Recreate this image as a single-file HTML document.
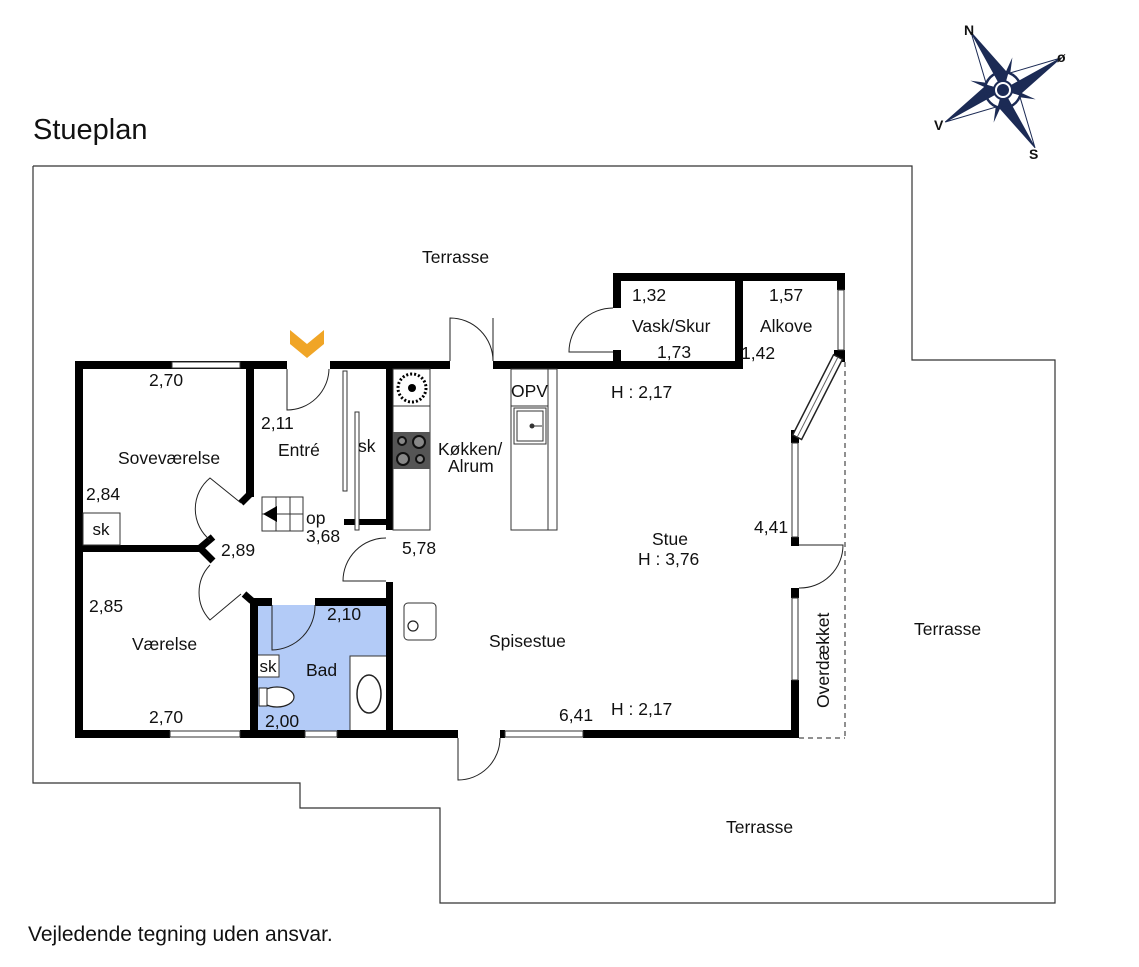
<!DOCTYPE html>
<html><head><meta charset="utf-8"><style>
html,body{margin:0;padding:0;background:#fff}
svg{display:block}
text{font-family:"Liberation Sans",Arial,sans-serif;fill:#111}
</style></head><body>
<svg width="1139" height="967" viewBox="0 0 1139 967" xmlns="http://www.w3.org/2000/svg">
<polyline points="33,166 912,166 912,360 1055,360 1055,903 440,903 440,808 300,808 300,783 33,783 33,166" fill="none" stroke="#333" stroke-width="1.2"/>
<rect x="257" y="605" width="130" height="127" fill="#b3cbf7"/>
<rect x="257" y="655" width="22" height="22" fill="#fff" stroke="#333" stroke-width="1"/>
<text x="268" y="672" font-size="17" text-anchor="middle">sk</text>
<rect x="350" y="656" width="37" height="76" fill="#fff" stroke="#333" stroke-width="1"/>
<ellipse cx="369" cy="694" rx="12" ry="19" fill="none" stroke="#222" stroke-width="1.5"/>
<ellipse cx="277" cy="697" rx="17" ry="10" fill="#fff" stroke="#222" stroke-width="1.2"/>
<rect x="259" y="688" width="8" height="18" fill="#fff" stroke="#222" stroke-width="1"/>
<g fill="#000">
<rect x="75" y="361" width="212" height="8"/>
<rect x="330" y="361" width="120" height="8"/>
<rect x="493" y="361" width="128" height="8"/>
<rect x="613" y="273" width="232" height="8"/>
<rect x="613" y="273" width="8" height="35"/>
<rect x="613" y="350" width="8" height="19"/>
<rect x="613" y="361" width="130" height="8"/>
<rect x="735" y="273" width="8" height="96"/>
<rect x="837" y="273" width="8" height="17"/>
<rect x="834" y="350" width="11" height="12"/>
<rect x="791" y="430" width="8" height="13"/>
<rect x="791" y="537" width="8" height="9"/>
<rect x="791" y="588" width="8" height="10"/>
<rect x="791" y="680" width="8" height="58"/>
<rect x="75" y="361" width="8" height="377"/>
<rect x="75" y="730" width="95" height="8"/>
<rect x="240" y="730" width="65" height="8"/>
<rect x="337" y="730" width="121" height="8"/>
<rect x="500" y="730" width="5" height="8"/>
<rect x="583" y="730" width="216" height="8"/>
<rect x="246" y="369" width="8" height="128"/>
<rect x="83" y="545" width="122" height="7"/>
<rect x="250" y="598" width="8" height="140"/>
<rect x="250" y="598" width="22" height="8"/>
<rect x="315" y="598" width="78" height="8"/>
<rect x="386" y="369" width="7" height="161"/>
<rect x="386" y="582" width="7" height="156"/>
<rect x="344" y="519" width="48" height="6"/>
</g>
<g stroke="#000" stroke-width="7" fill="none">
<line x1="250" y1="494" x2="241" y2="503"/>
<line x1="200" y1="548" x2="213" y2="537"/>
<line x1="200" y1="548" x2="213" y2="561"/>
<line x1="252" y1="601" x2="244" y2="594"/>
</g>
<g transform="translate(838,357) rotate(117)">
<rect x="0" y="-5" width="90" height="10" fill="#fff" stroke="#222" stroke-width="1.5"/>
<line x1="0" y1="0" x2="90" y2="0" stroke="#666" stroke-width="1"/>
</g>
<g fill="#fff" stroke="#333" stroke-width="1">
<rect x="172" y="362" width="68" height="6"/>
<rect x="170" y="731" width="70" height="6"/>
<rect x="305" y="731" width="32" height="6"/>
<rect x="505" y="731" width="78" height="6"/>
<rect x="838" y="290" width="6" height="60"/>
<rect x="792" y="443" width="6" height="94"/>
<rect x="792" y="598" width="6" height="82"/>
</g>
<g fill="none" stroke="#222" stroke-width="1">
<path d="M287,369 V410 A42,42 0 0 0 329,369"/>
<path d="M450,361 V318 A43,43 0 0 1 493,361 V318"/>
<path d="M613,308 A44,44 0 0 0 569,352 H613"/>
<path d="M458,738 V780 A42,42 0 0 0 500,738"/>
<path d="M799,545 H843 A43,43 0 0 1 799,588"/>
<path d="M386,538 A43,43 0 0 0 343,581 H386"/>
<path d="M272,605 V650 A44,44 0 0 0 315,605"/>
<path d="M241,503 L210,478 A40,40 0 0 0 210,540"/>
<path d="M241,594 L210,620 A40,40 0 0 1 210,565"/>
<line x1="845" y1="362" x2="845" y2="738" stroke-dasharray="5,4"/>
<line x1="799" y1="738" x2="845" y2="738" stroke-dasharray="5,4"/>
</g>
<rect x="343" y="371" width="4" height="120" fill="#fff" stroke="#333" stroke-width="1"/>
<rect x="355" y="412" width="4" height="118" fill="#fff" stroke="#333" stroke-width="1"/>
<rect x="83" y="513" width="37" height="32" fill="#fff" stroke="#333" stroke-width="1"/>
<text x="101" y="535" font-size="17" text-anchor="middle">sk</text>
<g fill="none" stroke="#333" stroke-width="1">
<rect x="262" y="497" width="41" height="34"/>
<line x1="276" y1="497" x2="276" y2="531"/><line x1="290" y1="497" x2="290" y2="531"/>
<line x1="262" y1="514" x2="303" y2="514"/>
</g>
<polygon points="263,514 277,506 277,522" fill="#000"/>
<g fill="#fff" stroke="#333" stroke-width="1">
<rect x="393" y="369" width="37" height="161"/>
<rect x="393" y="369" width="37" height="37"/>
<rect x="511" y="369" width="46" height="161"/>
<rect x="511" y="369" width="37" height="37"/>
<line x1="548" y1="369" x2="548" y2="530"/>
<rect x="514" y="408" width="32" height="36"/>
<rect x="517" y="411" width="26" height="30"/>
<rect x="404" y="603" width="32" height="37" rx="4"/>
</g>
<circle cx="412" cy="388" r="14" fill="#fff" stroke="#000" stroke-width="3" stroke-dasharray="2,2"/>
<circle cx="412" cy="388" r="4" fill="#000"/>
<rect x="393" y="432" width="37" height="37" fill="#555"/>
<g fill="#888" stroke="#111" stroke-width="2"><circle cx="402" cy="441" r="4"/><circle cx="419" cy="442" r="6"/><circle cx="403" cy="459" r="6"/><circle cx="420" cy="459" r="4"/></g>
<circle cx="532" cy="426" r="2.5" fill="#333"/><line x1="532" y1="426" x2="542" y2="426" stroke="#333"/>
<circle cx="413" cy="626" r="5" fill="none" stroke="#222" stroke-width="1.2"/>
<polygon points="290,330 307,344 324,330 324,344 307,358 290,344" fill="#f0a526"/>
<text x="33" y="139" font-size="29">Stueplan</text>
<text x="28" y="941" font-size="21">Vejledende tegning uden ansvar.</text>
<g font-size="17.5">
<text x="422" y="263">Terrasse</text>
<text x="914" y="635">Terrasse</text>
<text x="726" y="833">Terrasse</text>
<text x="149" y="386">2,70</text>
<text x="118" y="464">Soveværelse</text>
<text x="86" y="500">2,84</text>
<text x="261" y="429">2,11</text>
<text x="278" y="456">Entré</text>
<text x="358" y="452">sk</text>
<text x="306" y="524">op</text>
<text x="306" y="542">3,68</text>
<text x="221" y="556">2,89</text>
<text x="402" y="554">5,78</text>
<text x="89" y="612">2,85</text>
<text x="132" y="650">Værelse</text>
<text x="149" y="723">2,70</text>
<text x="327" y="620">2,10</text>
<text x="306" y="676">Bad</text>
<text x="265" y="727">2,00</text>
<text x="438" y="455">Køkken/</text>
<text x="448" y="472">Alrum</text>
<text x="511" y="397">OPV</text>
<text x="632" y="301">1,32</text>
<text x="632" y="332">Vask/Skur</text>
<text x="657" y="358">1,73</text>
<text x="769" y="301">1,57</text>
<text x="760" y="332">Alkove</text>
<text x="741" y="359">1,42</text>
<text x="611" y="398">H : 2,17</text>
<text x="652" y="545">Stue</text>
<text x="638" y="565">H : 3,76</text>
<text x="754" y="533">4,41</text>
<text x="489" y="647">Spisestue</text>
<text x="559" y="721">6,41</text>
<text x="611" y="715">H : 2,17</text>
<text x="829" y="708" transform="rotate(-90 829 708)">Overdækket</text>
</g>
<g transform="translate(1003,90)">
<g transform="rotate(-29)">
<g transform="rotate(45)" fill="#1c2b55">
<polygon points="0,-34 5,0 0,34 -5,0"/><polygon points="-34,0 0,5 34,0 0,-5"/>
</g>
<polygon points="0,-66 12,-12 0,0" fill="#1c2b55" stroke="#1c2b55"/>
<polygon points="0,-66 -12,-12 0,0" fill="#fff" stroke="#1c2b55"/>
<polygon points="0,66 -12,12 0,0" fill="#1c2b55" stroke="#1c2b55"/>
<polygon points="0,66 12,12 0,0" fill="#fff" stroke="#1c2b55"/>
<polygon points="66,0 12,12 0,0" fill="#1c2b55" stroke="#1c2b55"/>
<polygon points="66,0 12,-12 0,0" fill="#fff" stroke="#1c2b55"/>
<polygon points="-66,0 -12,-12 0,0" fill="#1c2b55" stroke="#1c2b55"/>
<polygon points="-66,0 -12,12 0,0" fill="#fff" stroke="#1c2b55"/>
</g>
<circle r="18" fill="none" stroke="#1c2b55" stroke-width="2.5"/>
<circle r="9" fill="#fff" stroke="#1c2b55" stroke-width="2"/>
<circle r="6" fill="#1c2b55"/>
</g>
<g font-size="14" font-weight="bold">
<text x="964" y="35">N</text>
<text x="1057" y="62">ø</text>
<text x="934" y="130">V</text>
<text x="1029" y="159">S</text>
</g>
</svg>
</body></html>
